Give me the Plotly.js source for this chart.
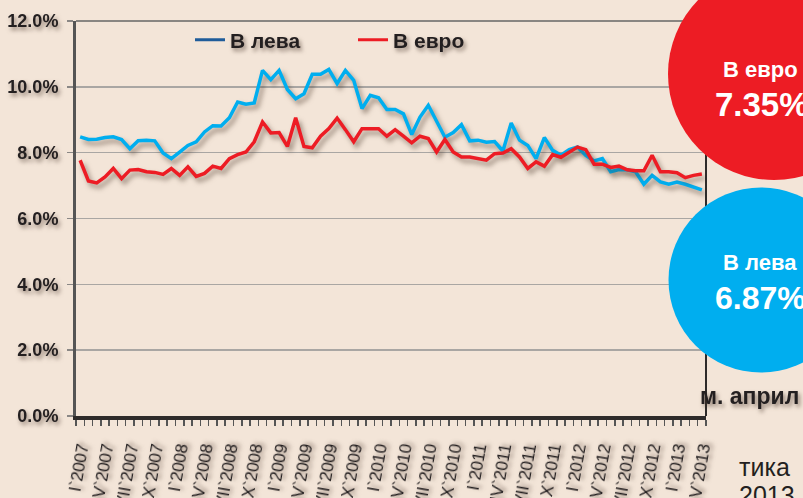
<!DOCTYPE html>
<html>
<head>
<meta charset="utf-8">
<script src="https://cdn.plot.ly/plotly-3.0.1.min.js"></script>
<style>
  html, body { margin: 0; padding: 0; background: #f3e5d8; }
  #chart { width: 803px; height: 498px; }
  .js-plotly-plot .scatterlayer .trace { filter: drop-shadow(3px 4px 2.5px rgba(70,50,35,0.5)); }
  .js-plotly-plot .xtick text, .js-plotly-plot .ytick text, .js-plotly-plot .legendtext { filter: drop-shadow(2px 3px 2px rgba(60,40,30,0.55)); }
  .js-plotly-plot .annotation[data-index="4"] text { filter: drop-shadow(2px 3px 2px rgba(60,40,30,0.55)); }
</style>
</head>
<body>
<div id="chart"></div>
<script>
// ---- data (percent) ----
const seriesNames = ["В лева", "В евро"];
const levaRates = [
  8.48,8.40,8.41,8.46,8.48,8.40,8.12,8.36,8.38,8.36,
  7.99,7.82,8.02,8.22,8.33,8.63,8.82,8.81,9.06,9.54,
  9.47,9.51,10.50,10.22,10.50,9.92,9.64,9.79,10.38,10.38,
  10.53,10.10,10.50,10.20,9.34,9.74,9.67,9.31,9.31,9.18,
  8.55,9.08,9.44,8.95,8.47,8.61,8.85,8.36,8.38,8.32,
  8.34,8.05,8.90,8.38,8.22,7.82,8.46,8.07,7.92,8.09,
  8.17,7.92,7.75,7.82,7.42,7.49,7.48,7.42,7.04,7.31,
  7.11,7.04,7.11,7.04,6.96,6.87
];
const euroRates = [
  7.77,7.14,7.08,7.26,7.52,7.21,7.47,7.49,7.42,7.40,
  7.34,7.52,7.31,7.57,7.28,7.37,7.59,7.52,7.82,7.94,
  8.02,8.33,8.93,8.60,8.61,8.19,9.06,8.19,8.15,8.50,
  8.73,9.05,8.70,8.33,8.73,8.72,8.73,8.50,8.70,8.50,
  8.30,8.50,8.43,8.02,8.40,8.02,7.87,7.87,7.82,7.77,
  7.97,7.99,8.12,7.87,7.52,7.72,7.59,7.94,7.86,8.02,
  8.17,8.09,7.65,7.65,7.55,7.59,7.48,7.45,7.45,7.92,
  7.42,7.42,7.39,7.24,7.31,7.35
];
const tickLabels = [
  "I`2007","IV`2007","VII`2007","X`2007",
  "I`2008","IV`2008","VII`2008","X`2008",
  "I`2009","IV`2009","VII`2009","X`2009",
  "I`2010","IV`2010","VII`2010","X`2010",
  "I`2011","IV`2011","VII`2011","X`2011",
  "I`2012","IV`2012","VII`2012","X`2012",
  "I`2013","IV`2013"
];
const latestLabels = ["В евро", "7.35%", "В лева", "6.87%"];
const monthLabel = "м. април";

// ---- geometry helpers ----
const W = 803, H = 498, ML = 76, MR = 97, MT = 21, MB = 82;
const PW = W - ML - MR, PH = H - MT - MB;
const px = x => (x - ML) / PW;
const py = y => (H - MB - y) / PH;

const monthIdx = levaRates.map((_, i) => i);
const tickIdx = tickLabels.map((_, i) => i * 3);

const sans = "Liberation Sans, Arial, Helvetica, sans-serif";
const dark = "#231f20";

const traces = [
  { x: monthIdx, y: levaRates, type: "scatter", mode: "lines", showlegend: false,
    line: { color: "#00aeef", width: 3.5 }, hoverinfo: "skip" },
  { x: monthIdx, y: euroRates, type: "scatter", mode: "lines", showlegend: false,
    line: { color: "#ed1c24", width: 3.5 }, hoverinfo: "skip" },
  { x: [null], y: [null], type: "scatter", mode: "lines", name: seriesNames[0],
    line: { color: "#1f5c9a", width: 3 } },
  { x: [null], y: [null], type: "scatter", mode: "lines", name: seriesNames[1],
    line: { color: "#ed1c24", width: 3 } }
];

const layout = {
  width: W, height: H,
  margin: { l: ML, r: MR, t: MT, b: MB, pad: 0 },
  paper_bgcolor: "#f3e5d8",
  plot_bgcolor: "#f3e5d8",
  showlegend: true,
  legend: {
    orientation: "h", x: px(190), xanchor: "left", y: py(40), yanchor: "middle",
    bgcolor: "rgba(0,0,0,0)", itemwidth: 30, entrywidth: 118, entrywidthmode: "pixels",
    font: { family: sans, size: 21, color: dark, weight: "bold" }
  },
  xaxis: {
    range: [-0.5, 75.5], tickvals: tickIdx, ticktext: tickLabels, tickangle: -80,
    ticks: "", showgrid: false, zeroline: false, automargin: false,
    showline: true, linecolor: "#2e2b2a", linewidth: 3.5,
    ticklabelstandoff: 12,
    minor: { ticks: "outside", ticklen: 6, tickcolor: "#555", tickwidth: 1.5,
             tick0: -0.5, dtick: 1, showgrid: false },
    tickfont: { family: sans, size: 17, color: dark }
  },
  yaxis: {
    range: [0, 12], dtick: 2, tick0: 0, tickformat: ".1f", ticksuffix: "%",
    showgrid: true, gridcolor: "#a9a6a3", gridwidth: 1.5, zeroline: false,
    showline: true, linecolor: "#555", linewidth: 3, automargin: false,
    ticks: "outside", ticklen: 6, tickcolor: "#8a8785", tickwidth: 1.5,
    ticklabelstandoff: 5,
    tickfont: { family: sans, size: 18, color: dark, weight: "bold" }
  },
  shapes: [
    { type: "line", xref: "paper", yref: "paper", x0: 0, x1: 1, y0: 1, y1: 1,
      line: { color: "#666", width: 1.5 } },
    { type: "line", xref: "paper", yref: "paper", x0: 1, x1: 1, y0: 0, y1: 1,
      line: { color: "#2e2b2a", width: 2 } },
    { type: "circle", xref: "paper", yref: "paper",
      x0: px(668), x1: px(880), y0: py(180), y1: py(-32),
      fillcolor: "#ed1c24", line: { width: 0 } },
    { type: "circle", xref: "paper", yref: "paper",
      x0: px(668.5), x1: px(853.5), y0: py(372.5), y1: py(187.5),
      fillcolor: "#00aeef", line: { width: 0 } }
  ],
  annotations: [
    { xref: "paper", yref: "paper", x: px(760), y: py(69), text: latestLabels[0],
      showarrow: false, xanchor: "center", yanchor: "middle",
      font: { family: sans, size: 22, color: "#ffffff", weight: "bold" } },
    { xref: "paper", yref: "paper", x: px(713), y: py(104), text: latestLabels[1],
      showarrow: false, xanchor: "left", yanchor: "middle",
      font: { family: sans, size: 33, color: "#ffffff", weight: "bold" } },
    { xref: "paper", yref: "paper", x: px(760), y: py(262), text: latestLabels[2],
      showarrow: false, xanchor: "center", yanchor: "middle",
      font: { family: sans, size: 22, color: "#ffffff", weight: "bold" } },
    { xref: "paper", yref: "paper", x: px(713), y: py(298), text: latestLabels[3],
      showarrow: false, xanchor: "left", yanchor: "middle",
      font: { family: sans, size: 32, color: "#ffffff", weight: "bold" } },
    { xref: "paper", yref: "paper", x: px(698), y: py(396), text: monthLabel,
      showarrow: false, xanchor: "left", yanchor: "middle",
      font: { family: sans, size: 23, color: dark, weight: "bold" } },
    { xref: "paper", yref: "paper", x: px(737), y: py(467), text: "тика",
      showarrow: false, xanchor: "left", yanchor: "middle",
      font: { family: sans, size: 25, color: dark } },
    { xref: "paper", yref: "paper", x: px(737), y: py(479), text: "2013",
      showarrow: false, xanchor: "left", yanchor: "top",
      font: { family: sans, size: 25, color: dark } }
  ]
};

Plotly.newPlot("chart", traces, layout, { staticPlot: true, displayModeBar: false });
</script>
</body>
</html>
